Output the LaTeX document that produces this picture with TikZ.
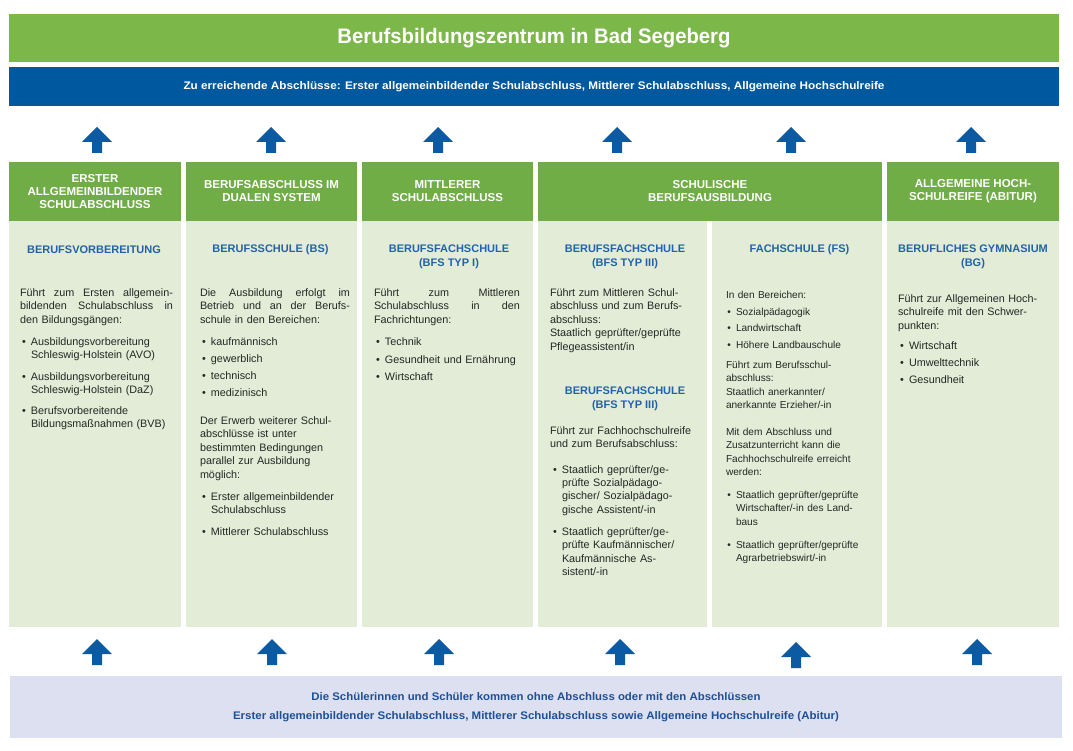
\documentclass[tikz,border=0pt]{standalone}
\usepackage{fontspec}
\usepackage{graphicx}
\setmainfont{Liberation Sans}
\definecolor{titlegreen}{RGB}{124,184,73}
\definecolor{headgreen}{RGB}{112,173,71}
\definecolor{bodygreen}{RGB}{226,236,214}
\definecolor{barblue}{RGB}{0,88,158}
\definecolor{arrowblue}{RGB}{11,90,162}
\definecolor{bottomfill}{RGB}{221,224,241}
\definecolor{subblue}{RGB}{35,98,170}
\definecolor{bottomblue}{RGB}{30,80,150}
\definecolor{textgray}{RGB}{38,38,38}
\newcommand\bodyfont{\fontsize{10.8}{13.4}\selectfont}
\newcommand\smallbodyfont{\fontsize{10.1}{13.4}\selectfont}
\newcommand\bul{\leavevmode\llap{\textbullet\hspace{5pt}}}
\newcommand\jline[2]{{\spaceskip=0pt\xspaceskip=0pt\makebox[#1][s]{#2}}}
\newcommand\wfit[2]{\resizebox{#1}{\height}{#2}}
\begin{document}
\begin{tikzpicture}[x=1pt,y=-1pt,
  box/.style={rectangle, inner sep=0pt, outer sep=0pt, draw=none},
  hbox/.style={box, fill=headgreen, minimum height=59pt, text=white, align=center,
    font=\bfseries\fontsize{11.5}{13}\selectfont},
  bbox/.style={box, fill=bodygreen, minimum height=406pt},
  sub/.style={inner sep=0pt, text=subblue, align=center, font=\bfseries\fontsize{11}{14}\selectfont},
  txt/.style={anchor=base west, inner sep=0pt, outer sep=0pt, text=textgray, align=left,
    text width=170pt, font=\bodyfont},
  stxt/.style={txt, font=\smallbodyfont},
  uparrow/.pic={\fill[arrowblue] (-5,0) -- (-5,-11) -- (-15,-11) -- (0,-26) -- (15,-11) -- (5,-11) -- (5,0) -- cycle;}
]
\useasboundingbox (0,0) rectangle (1073,751);
\fill[white] (0,0) rectangle (1073,751);

% top bars
\node[box, fill=titlegreen, minimum width=1050pt, minimum height=48pt, text=white] (title) at (534,38)
  {\wfit{393pt}{\fontsize{21}{21}\selectfont\bfseries Berufsbildungszentrum in Bad Segeberg}};
\node[box, fill=barblue, minimum width=1050pt, minimum height=39pt, text=white] (abschl) at (534,86.5)
  {\wfit{701pt}{\fontsize{11}{11}\selectfont\bfseries Zu erreichende Abschlüsse: Erster allgemeinbildender Schulabschluss, Mittlerer Schulabschluss, Allgemeine Hochschulreife}};

% upper arrows
\foreach \ax in {97,271,438,617,791,971} \pic at (\ax,153) {uparrow};

% column headers
\node[hbox, minimum width=172pt] (h1) at (95,191.5) {ERSTER\\ALLGEMEINBILDENDER\\SCHULABSCHLUSS};
\node[hbox, minimum width=171pt] (h2) at (271.5,191.5) {BERUFSABSCHLUSS IM\\DUALEN SYSTEM};
\node[hbox, minimum width=171pt] (h3) at (447.5,191.5) {MITTLERER\\SCHULABSCHLUSS};
\node[hbox, minimum width=344pt] (h4) at (710,191.5) {SCHULISCHE\\BERUFSAUSBILDUNG};
\node[hbox, minimum width=172pt] (h6) at (973,191.5) {ALLGEMEINE HOCH-\\SCHULREIFE (ABITUR)};

% column bodies
\node[bbox, minimum width=172pt] (b1) at (95,424) {};
\node[bbox, minimum width=171pt] (b2) at (271.5,424) {};
\node[bbox, minimum width=171pt] (b3) at (447.5,424) {};
\node[bbox, minimum width=169pt] (b4) at (622.5,424) {};
\node[bbox, minimum width=170pt] (b5) at (797,424) {};
\node[bbox, minimum width=172pt] (b6) at (973,424) {};

% sub headings
\node[sub] (s1) at (94,250) {BERUFSVORBEREITUNG};
\node[sub] (s2) at (270.5,250) {BERUFSSCHULE (BS)};
\node[sub] (s3) at (449,256.5) {BERUFSFACHSCHULE\\(BFS TYP I)};
\node[sub] (s4) at (625,256.5) {BERUFSFACHSCHULE\\(BFS TYP III)};
\node[sub] (s4b) at (625,398.5) {BERUFSFACHSCHULE\\(BFS TYP III)};
\node[sub] (s5) at (799.5,250) {FACHSCHULE (FS)};
\node[sub] (s6) at (973,256.5) {BERUFLICHES GYMNASIUM\\(BG)};

% column 1
\node[txt] (t1a) at (20,296.5) {\jline{153pt}{Führt zum Ersten allgemein-}\\\jline{153pt}{bildenden Schulabschluss in}\\den Bildungsgängen:};
\node[txt] (t1b) at (31,345.5) {\bul Ausbildungsvorbereitung\\Schleswig-Holstein (AVO)};
\node[txt] (t1c) at (31,380.5) {\bul Ausbildungsvorbereitung\\Schleswig-Holstein (DaZ)};
\node[txt] (t1d) at (31,414.5) {\bul Berufsvorbereitende\\Bildungsmaßnahmen (BVB)};

% column 2
\node[txt] (t2a) at (200,296.5) {\jline{150pt}{Die Ausbildung erfolgt im}\\\jline{150pt}{Betrieb und an der Berufs-}\\schule in den Bereichen:};
\node[txt] (t2b) at (211,345.5) {\bul kaufmännisch};
\node[txt] (t2c) at (211,362.5) {\bul gewerblich};
\node[txt] (t2d) at (211,379.5) {\bul technisch};
\node[txt] (t2e) at (211,396.5) {\bul medizinisch};
\node[txt] (t2f) at (200,424.5) {Der Erwerb weiterer Schul-\\abschlüsse ist unter\\bestimmten Bedingungen\\parallel zur Ausbildung\\möglich:};
\node[txt] (t2g) at (211,500.5) {\bul Erster allgemeinbildender\\Schulabschluss};
\node[txt] (t2h) at (211,535.5) {\bul Mittlerer Schulabschluss};

% column 3
\node[txt] (t3a) at (374,296.5) {\jline{146pt}{Führt zum Mittleren}\\\jline{146pt}{Schulabschluss in den}\\Fachrichtungen:};
\node[txt] (t3b) at (385,345.5) {\bul Technik};
\node[txt] (t3c) at (385,363) {\bul Gesundheit und Ernährung};
\node[txt] (t3d) at (385,380) {\bul Wirtschaft};

% column 4a
\node[txt] (t4a) at (550,296.5) {Führt zum Mittleren Schul-\\abschluss und zum Berufs-\\abschluss:\\Staatlich geprüfter/geprüfte\\Pflegeassistent/in};
\node[txt] (t4b) at (550,434) {Führt zur Fachhochschulreife\\und zum Berufsabschluss:};
\node[txt] (t4c) at (562,473) {\bul Staatlich geprüfter/ge-\\prüfte Sozialpädago-\\gischer/ Sozialpädago-\\gische Assistent/-in};
\node[txt] (t4d) at (562,535.5) {\bul Staatlich geprüfter/ge-\\prüfte Kaufmännischer/\\Kaufmännische As-\\sistent/-in};

% column 4b
\node[stxt] (t5a) at (726,298.5) {In den Bereichen:};
\node[stxt] (t5b) at (736,315.5) {\bul Sozialpädagogik};
\node[stxt] (t5c) at (736,331.5) {\bul Landwirtschaft};
\node[stxt] (t5d) at (736,348.5) {\bul Höhere Landbauschule};
\node[stxt] (t5e) at (726,368.5) {Führt zum Berufsschul-\\abschluss:\\Staatlich anerkannter/\\anerkannte Erzieher/-in};
\node[stxt] (t5f) at (726,435.5) {Mit dem Abschluss und\\Zusatzunterricht kann die\\Fachhochschulreife erreicht\\werden:};
\node[stxt] (t5g) at (736,498.5) {\bul Staatlich geprüfter/geprüfte\\Wirtschafter/-in des Land-\\baus};
\node[stxt] (t5h) at (736,548.5) {\bul Staatlich geprüfter/geprüfte\\Agrarbetriebswirt/-in};

% column 6
\node[txt] (t6a) at (898,302.5) {Führt zur Allgemeinen Hoch-\\schulreife mit den Schwer-\\punkten:};
\node[txt] (t6b) at (909,349.5) {\bul Wirtschaft};
\node[txt] (t6c) at (909,366.5) {\bul Umwelttechnik};
\node[txt] (t6d) at (909,383.5) {\bul Gesundheit};

% lower arrows
\pic at (97,665) {uparrow};
\pic at (272,665) {uparrow};
\pic at (439,665) {uparrow};
\pic at (620,665) {uparrow};
\pic at (796,668) {uparrow};
\pic at (977,665) {uparrow};

% bottom box
\node[box, fill=bottomfill, minimum width=1052pt, minimum height=62pt, text=bottomblue, align=center,
  font=\bfseries\fontsize{11}{19}\selectfont] (bottom) at (536,707)
  {\wfit{449pt}{Die Schülerinnen und Schüler kommen ohne Abschluss oder mit den Abschlüssen}\\
   \wfit{606pt}{Erster allgemeinbildender Schulabschluss, Mittlerer Schulabschluss sowie Allgemeine Hochschulreife (Abitur)}};
\end{tikzpicture}
\end{document}
